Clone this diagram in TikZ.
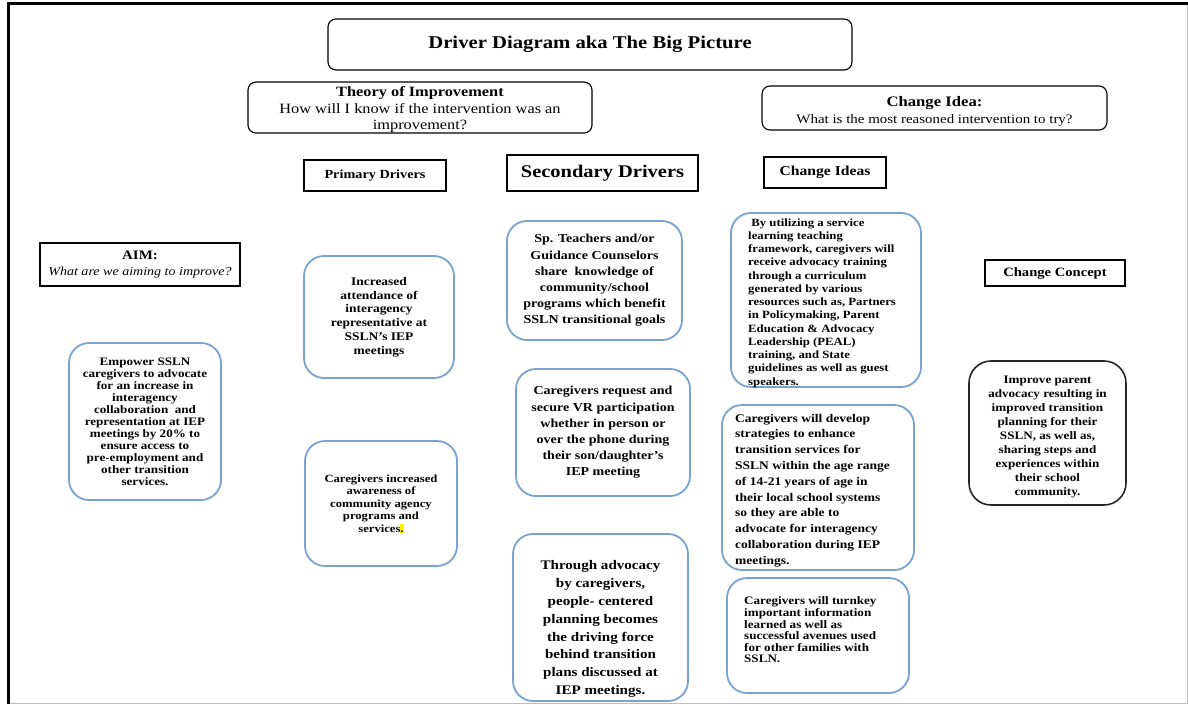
\documentclass[tikz,border=0pt]{standalone}
\usepackage{fontspec}
\setmainfont[FakeStretch=1.15]{Liberation Serif}
\usepackage{xcolor}
\definecolor{boxblue}{RGB}{118,163,212}
\definecolor{framegray}{RGB}{190,190,190}
\begin{document}
\begin{tikzpicture}[x=1pt,y=-1pt,
  headbox/.style={draw=black, line width=1.1pt, rounded corners=8pt, inner sep=0pt, align=center},
  labelbox/.style={draw=black, line width=1.3pt, inner sep=0pt, align=center, font=\bfseries\fontsize{12.5}{14}\selectfont},
  bluebox/.style={draw=boxblue, line width=1.8pt, rounded corners=20pt, inner sep=0pt, align=center},
  blackbox/.style={draw=black!85, line width=1.6pt, rounded corners=22pt, inner sep=0pt, align=center},
  txt/.style={inner sep=0pt, align=left}
]
\useasboundingbox (0,0) rectangle (1188,704);
% frame
\draw[framegray, line width=1pt] (10,703) -- (1187,703) -- (1187,4);
\draw[line width=3pt] (8,704) -- (8,3) -- (1188,3);

% headers
\node[headbox, minimum width=524, minimum height=51, font=\bfseries\fontsize{18}{20}\selectfont] (title) at (590,44.5) {Driver Diagram aka The Big Picture};
\node[headbox, minimum width=344, minimum height=51] (theory) at (420,107.5) {};
\node[txt, align=center, font=\fontsize{14.2}{16.5}\selectfont] (theoryt) at (420,110) {\textbf{Theory of Improvement}\\How will I know if the intervention was an\\improvement?};
\node[headbox, minimum width=345, minimum height=44] (idea) at (934.5,108) {};
\node[txt, align=center, font=\fontsize{13}{17}\selectfont] (ideat) at (934.5,111) {\textbf{\fontsize{14.5}{17}\selectfont Change Idea:}\\What is the most reasoned intervention to try?};

\node[labelbox, minimum width=142, minimum height=31, font=\bfseries\fontsize{12.4}{14}\selectfont] (primaryh) at (375,175.5) {Primary Drivers};
\node[labelbox, minimum width=191, minimum height=36, font=\bfseries\fontsize{17.8}{19}\selectfont] (secondaryh) at (602.5,173) {Secondary Drivers};
\node[labelbox, minimum width=122, minimum height=31, font=\bfseries\fontsize{13.6}{15}\selectfont] (ideash) at (825,172.5) {Change Ideas};
\node[labelbox, minimum width=200, minimum height=43, font=\fontsize{13}{16}\selectfont] (aimh) at (140,264.5) {\textbf{AIM:}\\\textit{\fontsize{12.2}{16}\selectfont What are we aiming to improve?}};
\node[labelbox, minimum width=140, minimum height=26, font=\bfseries\fontsize{12.7}{14}\selectfont] (concepth) at (1055,273) {Change Concept};

% aim
\node[bluebox, minimum width=152, minimum height=157, font=\bfseries\fontsize{11.4}{12}\selectfont] (aim) at (145,421.5) {Empower SSLN\\caregivers to advocate\\for an increase in\\interagency\\collaboration\ \ and\\representation at IEP\\meetings by 20\% to\\ensure access to\\pre-employment and\\other transition\\services.};

% primary drivers
\node[bluebox, minimum width=150, minimum height=122, font=\bfseries\fontsize{11.7}{13.8}\selectfont] (p1) at (379,317) {Increased\\attendance of\\interagency\\representative at\\SSLN's IEP\\meetings};
\node[bluebox, minimum width=152, minimum height=125, font=\bfseries\fontsize{11}{12.6}\selectfont] (p2) at (381,503.5) {Caregivers increased\\awareness of\\community agency\\programs and\\services{\setlength{\fboxsep}{0pt}\colorbox{yellow}{\rule{0pt}{8pt}.}}};

% secondary drivers
\node[bluebox, minimum width=175, minimum height=119, font=\bfseries\fontsize{12.2}{16.2}\selectfont] (s1) at (594.5,280.5) {Sp. Teachers and/or\\Guidance Counselors\\share\ \ knowledge of\\community/school\\programs which benefit\\SSLN transitional goals};
\node[bluebox, minimum width=174, minimum height=127, font=\bfseries\fontsize{12.2}{16.2}\selectfont] (s2) at (603,432.5) {Caregivers request and\\secure VR participation\\whether in person or\\over the phone during\\their son/daughter's\\IEP meeting};
\node[bluebox, minimum width=175, minimum height=167] (s3) at (600.5,617.5) {};
\node[txt, align=center, font=\bfseries\fontsize{13.1}{17.9}\selectfont] (s3t) at (600.5,629) {Through advocacy\\by caregivers,\\people- centered\\planning becomes\\the driving force\\behind transition\\plans discussed at\\IEP meetings.};

% change ideas
\node[bluebox, minimum width=190, minimum height=174] (c1) at (826,300) {};
\node[txt, anchor=west, font=\bfseries\fontsize{11.1}{13.25}\selectfont] (c1t) at (748,303) {\ By utilizing a service\\learning teaching\\framework, caregivers will\\receive advocacy training\\through a curriculum\\generated by various\\resources such as, Partners\\in Policymaking, Parent\\Education \& Advocacy\\Leadership (PEAL)\\training, and State\\guidelines as well as guest\\speakers.};
\node[bluebox, minimum width=192, minimum height=165] (c2) at (818,487.5) {};
\node[txt, anchor=west, font=\bfseries\fontsize{11.75}{15.8}\selectfont] (c2t) at (735,490.5) {Caregivers will develop\\strategies to enhance\\transition services for\\SSLN within the age range\\of 14-21 years of age in\\their local school systems\\so they are able to\\advocate for interagency\\collaboration during IEP\\meetings.};
\node[bluebox, minimum width=182, minimum height=115] (c3) at (818,635.5) {};
\node[txt, anchor=west, font=\bfseries\fontsize{11.4}{11.6}\selectfont] (c3t) at (744,630) {Caregivers will turnkey\\important information\\learned as well as\\successful avenues used\\for other families with\\SSLN.};

% change concept
\node[blackbox, minimum width=157, minimum height=144] (concept) at (1047.5,433) {};
\node[txt, align=center, font=\bfseries\fontsize{11.4}{13.9}\selectfont] (conceptt) at (1047.5,437) {Improve parent\\advocacy resulting in\\improved transition\\planning for their\\SSLN, as well as,\\sharing steps and\\experiences within\\their school\\community.};
\end{tikzpicture}
\end{document}
